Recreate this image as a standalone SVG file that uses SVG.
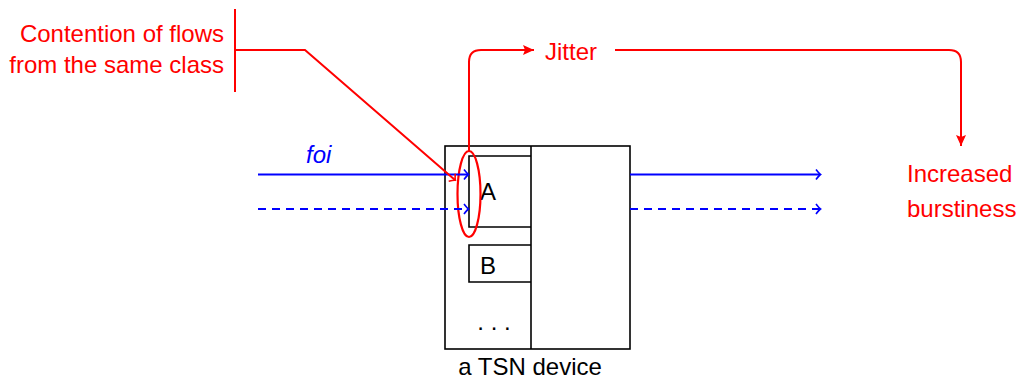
<svg xmlns="http://www.w3.org/2000/svg" width="1020" height="380" viewBox="0 0 1020 380">
<style>
text{font-family:"Liberation Sans","DejaVu Sans",sans-serif;font-size:24px}
.red{fill:#ff0000}
.blue{fill:#0000ff}
.box{fill:none;stroke:#000;stroke-width:1.6}
.rl{fill:none;stroke:#ff0000;stroke-width:2}
.bl{fill:none;stroke:#0000ff;stroke-width:1.8}
</style>
<defs>
<marker id="to-blue" viewBox="-6 -6 8 12" markerWidth="8" markerHeight="12" refX="0" refY="0" orient="auto" markerUnits="userSpaceOnUse">
<path d="M-4,-5 Q-1,-1 0.5,0 Q-1,1 -4,5" fill="none" stroke="#0000ff" stroke-width="1.6"/>
</marker>
<marker id="to-red" viewBox="-6 -6 8 12" markerWidth="8" markerHeight="12" refX="0" refY="0" orient="auto" markerUnits="userSpaceOnUse">
<path d="M-4,-5 Q-1,-1 0.5,0 Q-1,1 -4,5" fill="none" stroke="#ff0000" stroke-width="1.6"/>
</marker>
<marker id="tri-red" viewBox="-12 -6 13 12" markerWidth="13" markerHeight="12" refX="0" refY="0" orient="auto" markerUnits="userSpaceOnUse">
<path d="M-11,-5 L0,0 L-11,5 L-9,0 Z" fill="#ff0000"/>
</marker>
</defs>
<g id="device">
<rect class="box" x="445" y="146" width="185" height="203"/>
<line class="box" x1="531" y1="146" x2="531" y2="349"/>
<text x="530" y="375" text-anchor="middle">a TSN device</text>
</g>
<g id="queueA">
<path class="box" d="M531,156 H469 V227 H531"/>
<text x="480" y="200">A</text>
</g>
<g id="queueB">
<path class="box" d="M531,245 H469 V282 H531"/>
<text x="480" y="274">B</text>
</g>
<g id="queueDots">
<text x="494" y="330" text-anchor="middle">. . .</text>
</g>
<g id="contention">
<line class="rl" x1="235" y1="9" x2="235" y2="92"/>
<text class="red" x="224" y="42" text-anchor="end">Contention of flows</text>
<text class="red" x="224" y="73" text-anchor="end">from the same class</text>
</g>
<g id="jitter">
<text class="red" x="545" y="60">Jitter</text>
</g>
<g id="burstiness">
<text class="red" x="907" y="182">Increased</text>
<text class="red" x="907" y="217">burstiness</text>
</g>
<g id="foi">
<text class="blue" x="306" y="163" font-style="italic">foi</text>
</g>
<g id="jitter-ellipse">
<ellipse cx="469" cy="194" rx="11.5" ry="43" fill="none" stroke="#ff0000" stroke-width="2.2"/>
</g>
<g id="connectors">
<line class="bl" x1="258" y1="174.5" x2="468" y2="174.5" marker-end="url(#to-blue)"/>
<line class="bl" x1="258" y1="209" x2="468" y2="209" stroke-dasharray="8,6" marker-end="url(#to-blue)"/>
<line class="bl" x1="630" y1="174.5" x2="820" y2="174.5" marker-end="url(#to-blue)"/>
<line class="bl" x1="630" y1="209" x2="820" y2="209" stroke-dasharray="8,6" marker-end="url(#to-blue)"/>
<path class="rl" d="M235,50 H305 L455,180" marker-end="url(#to-red)"/>
<path class="rl" d="M469,151 V62 Q469,50 481,50 H534" marker-end="url(#tri-red)"/>
<path class="rl" d="M615,50 H949 Q961,50 961,62 V146" marker-end="url(#tri-red)"/>
</g>
</svg>
